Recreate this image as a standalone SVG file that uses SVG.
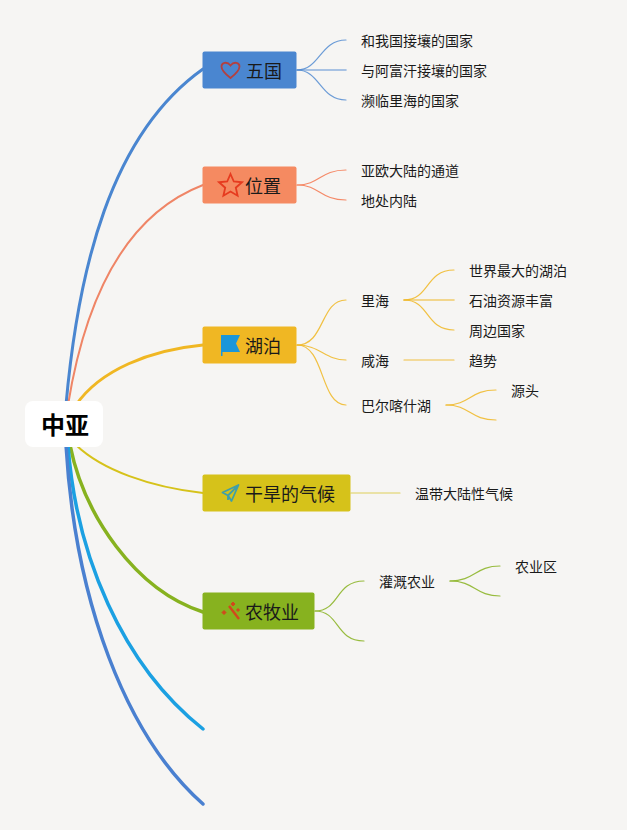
<svg xmlns="http://www.w3.org/2000/svg" width="627" height="830" viewBox="0 0 627 830">
<style>
text{font-family:"Noto Sans CJK SC","Noto Sans",sans-serif;fill:#1a1a1a}
.t{font-size:14px}
.m{font-size:18px}
.c{fill:none;stroke-linecap:round}
</style>
<rect width="627" height="830" fill="#f6f5f3"/>
<g id="connectors" class="c">
<path d="M66 405C78 270 110 135 203 69" stroke="#4a86d0" stroke-width="3"/>
<path d="M68 405C85 300 125 215 203 185" stroke="#ef8566" stroke-width="2"/>
<path d="M76 405C100 370 150 350 203 345" stroke="#f0b723" stroke-width="3"/>
<path d="M76 445C102 470 150 487 203 493" stroke="#d6c21a" stroke-width="2"/>
<path d="M70 445C84 515 135 590 203 612" stroke="#87b21f" stroke-width="3.500"/>
<path d="M68 445C76 555 122 665 203 729" stroke="#1ba0e2" stroke-width="3.500"/>
<path d="M66 445C75 600 125 735 203 804" stroke="#4a80d0" stroke-width="3.500"/>
<g stroke="#4a86d0" stroke-opacity=".8" stroke-width="1.200">
<path d="M297 70C320 70 320 40 346 40"/><path d="M297 70H346" stroke-width="1.600" stroke-opacity=".6"/><path d="M297 70C320 70 320 100 346 100"/>
</g>
<g stroke="#f58a68" stroke-width="1.200">
<path d="M297 185C320 185 320 170 346 170"/><path d="M297 185C320 185 320 200 346 200"/>
</g>
<g stroke="#f0b723" stroke-opacity=".85" stroke-width="1.200">
<path d="M297 345C325 345 320 300 346 300"/><path d="M297 345C320 345 325 360 346 360"/><path d="M297 345C325 345 320 405 346 405"/>
<path d="M404 300C430 300 425 270 454 270"/><path d="M404 300H454" stroke-width="1.600" stroke-opacity=".65"/><path d="M404 300C430 300 425 330 454 330"/>
<path d="M404 360H454"/>
<path d="M446 405C470 405 470 390 496 390"/><path d="M446 405C470 405 470 420 496 420"/>
</g>
<path d="M351 493H400" stroke="#d6c21a" stroke-opacity=".7" stroke-width="1.200"/>
<g stroke="#87b21f" stroke-opacity=".85" stroke-width="1.200">
<path d="M315 611C340 611 335 581 364 581"/><path d="M315 611C340 611 335 641 364 641"/>
<path d="M450 581C475 581 475 566 500 566"/><path d="M450 581C475 581 475 596 500 596"/>
</g>
</g>
<g id="root"><rect x="25" y="401" width="78" height="46" rx="8" fill="#fff"/><text x="65" y="434" font-size="24" font-weight="700" text-anchor="middle" style="fill:#000">中亚</text></g>
<g id="n-wuguo"><rect x="202.500" y="51.500" width="94" height="37" rx="2" fill="#4a86d0"/>
<path d="M230.500 78C224 73 221.500 70 221.500 66.500C221.500 62.500 227 61 230.500 65.500C234 61 239.500 62.500 239.500 66.500C239.500 70 237 73 230.500 78Z" fill="none" stroke="#b3403f" stroke-width="1.800"/>
<text class="m" x="246" y="78">五国</text></g>
<g id="n-weizhi"><rect x="202.500" y="166.500" width="94" height="37" rx="2" fill="#f58a61"/>
<path d="M230.500 174L233.800 181.500L242 182.300L235.800 187.700L237.600 195.700L230.500 191.500L223.400 195.700L225.200 187.700L219 182.300L227.200 181.500Z" fill="none" stroke="#e63b1f" stroke-width="1.800"/>
<text class="m" x="245" y="193">位置</text></g>
<g id="n-hubo"><rect x="202.500" y="326.500" width="94" height="37" rx="2" fill="#f0b723"/>
<path d="M221 335H240L236 343.500L240 352H222.500V356H221Z" fill="#1b96d8"/>
<text class="m" x="245" y="353">湖泊</text></g>
<g id="n-ganhan"><rect x="202.500" y="474.500" width="148" height="37" rx="2" fill="#d6c21a"/>
<path d="M238.500 485L222.500 492.500L228 495.500L238.500 485L231.500 501L228 495.500V500" fill="none" stroke="#3f9fa8" stroke-width="1.800" stroke-linejoin="round"/>
<text class="m" x="245" y="501">干旱的气候</text></g>
<g id="n-nongmu"><rect x="202.500" y="592.500" width="112" height="37" rx="2" fill="#87b21f"/>
<path d="M229 606L239 619" stroke="#d2481c" stroke-width="2.400" fill="none"/><path d="M224 610.500L226 612.500L224 614.500L222 612.500ZM233 602L235 604L233 606L231 604ZM238 608.500L239.500 610L238 611.500L236.500 610Z" fill="#d2481c" stroke="#d2481c"/>
<text class="m" x="245" y="619">农牧业</text></g>
<g id="leaf-1"><text class="t" x="361" y="46">和我国接壤的国家</text></g>
<g id="leaf-2"><text class="t" x="361" y="76">与阿富汗接壤的国家</text></g>
<g id="leaf-3"><text class="t" x="361" y="106">濒临里海的国家</text></g>
<g id="leaf-4"><text class="t" x="361" y="176">亚欧大陆的通道</text></g>
<g id="leaf-5"><text class="t" x="361" y="206">地处内陆</text></g>
<g id="leaf-6"><text class="t" x="361" y="306">里海</text></g>
<g id="leaf-7"><text class="t" x="469" y="276">世界最大的湖泊</text></g>
<g id="leaf-8"><text class="t" x="469" y="306">石油资源丰富</text></g>
<g id="leaf-9"><text class="t" x="469" y="336">周边国家</text></g>
<g id="leaf-10"><text class="t" x="361" y="366">咸海</text></g>
<g id="leaf-11"><text class="t" x="469" y="366">趋势</text></g>
<g id="leaf-12"><text class="t" x="361" y="411">巴尔喀什湖</text></g>
<g id="leaf-13"><text class="t" x="511" y="396">源头</text></g>
<g id="leaf-14"><text class="t" x="415" y="499">温带大陆性气候</text></g>
<g id="leaf-15"><text class="t" x="379" y="587">灌溉农业</text></g>
<g id="leaf-16"><text class="t" x="515" y="572">农业区</text></g>
</svg>
